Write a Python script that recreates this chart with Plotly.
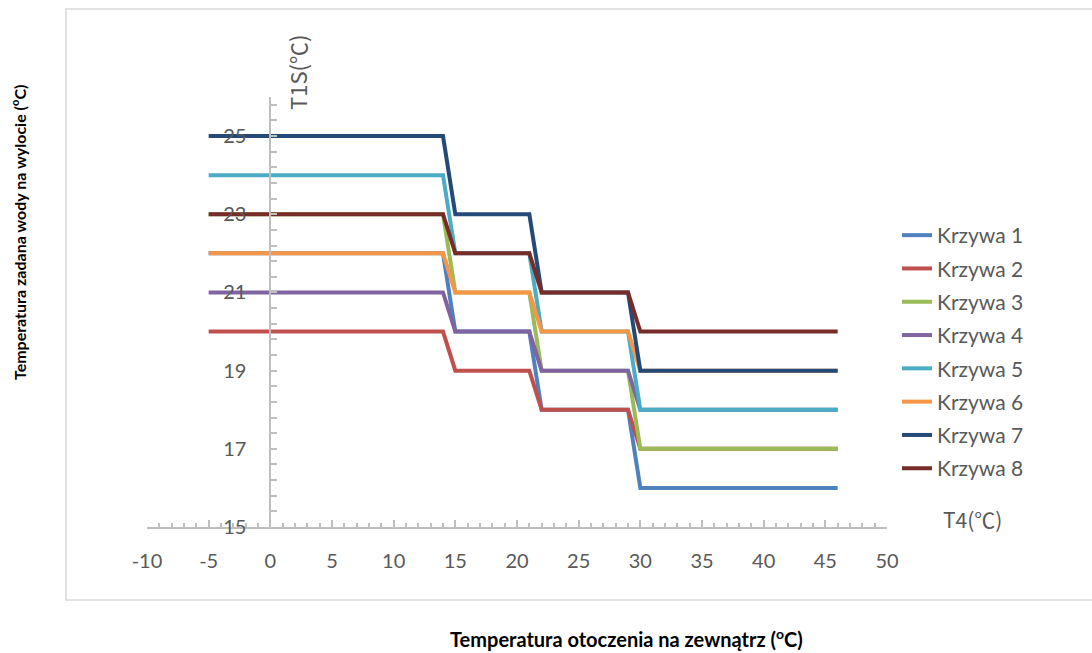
import plotly.graph_objects as go

# Outdoor temperature break points (T4, °C)
t4 = [-5, 14, 15, 21, 22, 29, 30, 46]

# Water set-point (T1S, °C) for each curve at the break points
krzywa_1 = [22, 22, 20, 20, 18, 18, 16, 16]
krzywa_2 = [20, 20, 19, 19, 18, 18, 17, 17]
krzywa_3 = [23, 23, 21, 21, 19, 19, 17, 17]
krzywa_4 = [21, 21, 20, 20, 19, 19, 18, 18]
krzywa_5 = [24, 24, 22, 22, 20, 20, 18, 18]
krzywa_6 = [22, 22, 21, 21, 20, 20, 19, 19]
krzywa_7 = [25, 25, 23, 23, 21, 21, 19, 19]
krzywa_8 = [23, 23, 22, 22, 21, 21, 20, 20]

names = ["Krzywa 1", "Krzywa 2", "Krzywa 3", "Krzywa 4",
         "Krzywa 5", "Krzywa 6", "Krzywa 7", "Krzywa 8"]
series = [krzywa_1, krzywa_2, krzywa_3, krzywa_4,
          krzywa_5, krzywa_6, krzywa_7, krzywa_8]
colors = ["#4F81BD", "#C0504D", "#9BBB59", "#8064A2",
          "#4BACC6", "#F79646", "#264A78", "#772C2A"]

# axis tick labels
x_ticks = [-10, -5, 0, 5, 10, 15, 20, 25, 30, 35, 40, 45, 50]
x_ticktext = ["-10", "-5", "0", "5", "10", "15", "20", "25", "30",
              "35", "40", "45", "50"]
y_ticks = [15, 17, 19, 21, 23, 25]

FONT = "Lato"
CJK = "Noto Sans CJK SC"
GRAY_TXT = "#595959"
AXIS_CLR = "#BFBFBF"

fig = go.Figure()
for name, ys, c in zip(names, series, colors):
    fig.add_trace(go.Scatter(
        x=t4, y=ys, name=name, mode="lines",
        line=dict(color=c, width=4),
        legendgroup=name,
    ))

# plot area: x from -10..50 over 740 px, y from 15..26 over 430 px
L, R, T, B = 147, 205, 97, 126
W, H = 1092, 653
pw, ph = W - L - R, H - T - B


def px(xp):
    return (xp - L) / pw


def py(yp):
    return (H - B - yp) / ph


fig.update_layout(
    width=W, height=H,
    margin=dict(l=L, r=R, t=T, b=B),
    paper_bgcolor="white", plot_bgcolor="white",
    font=dict(family=FONT, color=GRAY_TXT, size=19),
    showlegend=True,
    legend=dict(
        x=px(897), y=py(215), xanchor="left", yanchor="top",
        font=dict(family=FONT, size=21, color=GRAY_TXT),
        tracegroupgap=3, bgcolor="rgba(0,0,0,0)",
    ),
    xaxis=dict(
        range=[-10, 50], tickvals=x_ticks, ticktext=x_ticktext,
        showgrid=False, zeroline=False,
        showline=True, linecolor=AXIS_CLR, linewidth=2,
        ticks="inside", ticklen=7, tickwidth=1.5, tickcolor=AXIS_CLR,
        minor=dict(dtick=1, tick0=0, ticks="inside", ticklen=4,
                   tickwidth=1.5, tickcolor=AXIS_CLR, showgrid=False),
        tickfont=dict(family=FONT, size=20, color=GRAY_TXT),
        ticklabelstandoff=15,
    ),
    yaxis=dict(
        range=[15, 26], tickvals=y_ticks,
        anchor="free", position=1 / 6, side="left",
        showgrid=False, zeroline=False,
        showline=True, linecolor=AXIS_CLR, linewidth=2,
        ticks="inside", ticklen=6, tickwidth=1.5, tickcolor=AXIS_CLR,
        minor=dict(dtick=0.4, tick0=15, ticks="inside", ticklen=6,
                   tickwidth=1.5, tickcolor=AXIS_CLR, showgrid=False),
        tickfont=dict(family=FONT, size=20, color=GRAY_TXT),
        ticklabelstandoff=19,
    ),
)

# chart frame
fig.add_shape(type="rect", xref="paper", yref="paper",
              x0=px(66), x1=px(1100), y0=py(600), y1=py(9),
              line=dict(color="#D9D9D9", width=1.5), layer="below")

# axis names next to the axes
fig.add_annotation(text="T1S(℃)", xref="paper", yref="paper",
                   x=px(297), y=py(73), xanchor="center", yanchor="middle",
                   showarrow=False, textangle=-90,
                   font=dict(family=CJK, size=22, color=GRAY_TXT))
fig.add_annotation(text="T4(℃)", xref="paper", yref="paper",
                   x=px(972), y=py(519), xanchor="center", yanchor="middle",
                   showarrow=False,
                   font=dict(family=CJK, size=21, color=GRAY_TXT))

# axis titles
fig.add_annotation(text="<b>Temperatura zadana wody na wylocie (<sup>o</sup>C)</b>",
                   xref="paper", yref="paper", x=px(18), y=py(233),
                   xanchor="center", yanchor="middle",
                   showarrow=False, textangle=-90,
                   font=dict(family=FONT, size=16, color="black"))
fig.add_annotation(text="<b>Temperatura otoczenia na zewnątrz (<sup>o</sup>C)</b>",
                   xref="paper", yref="paper", x=px(626), y=py(638),
                   xanchor="center", yanchor="middle",
                   showarrow=False,
                   font=dict(family=FONT, size=20, color="black"))

fig.write_html("out.html")
